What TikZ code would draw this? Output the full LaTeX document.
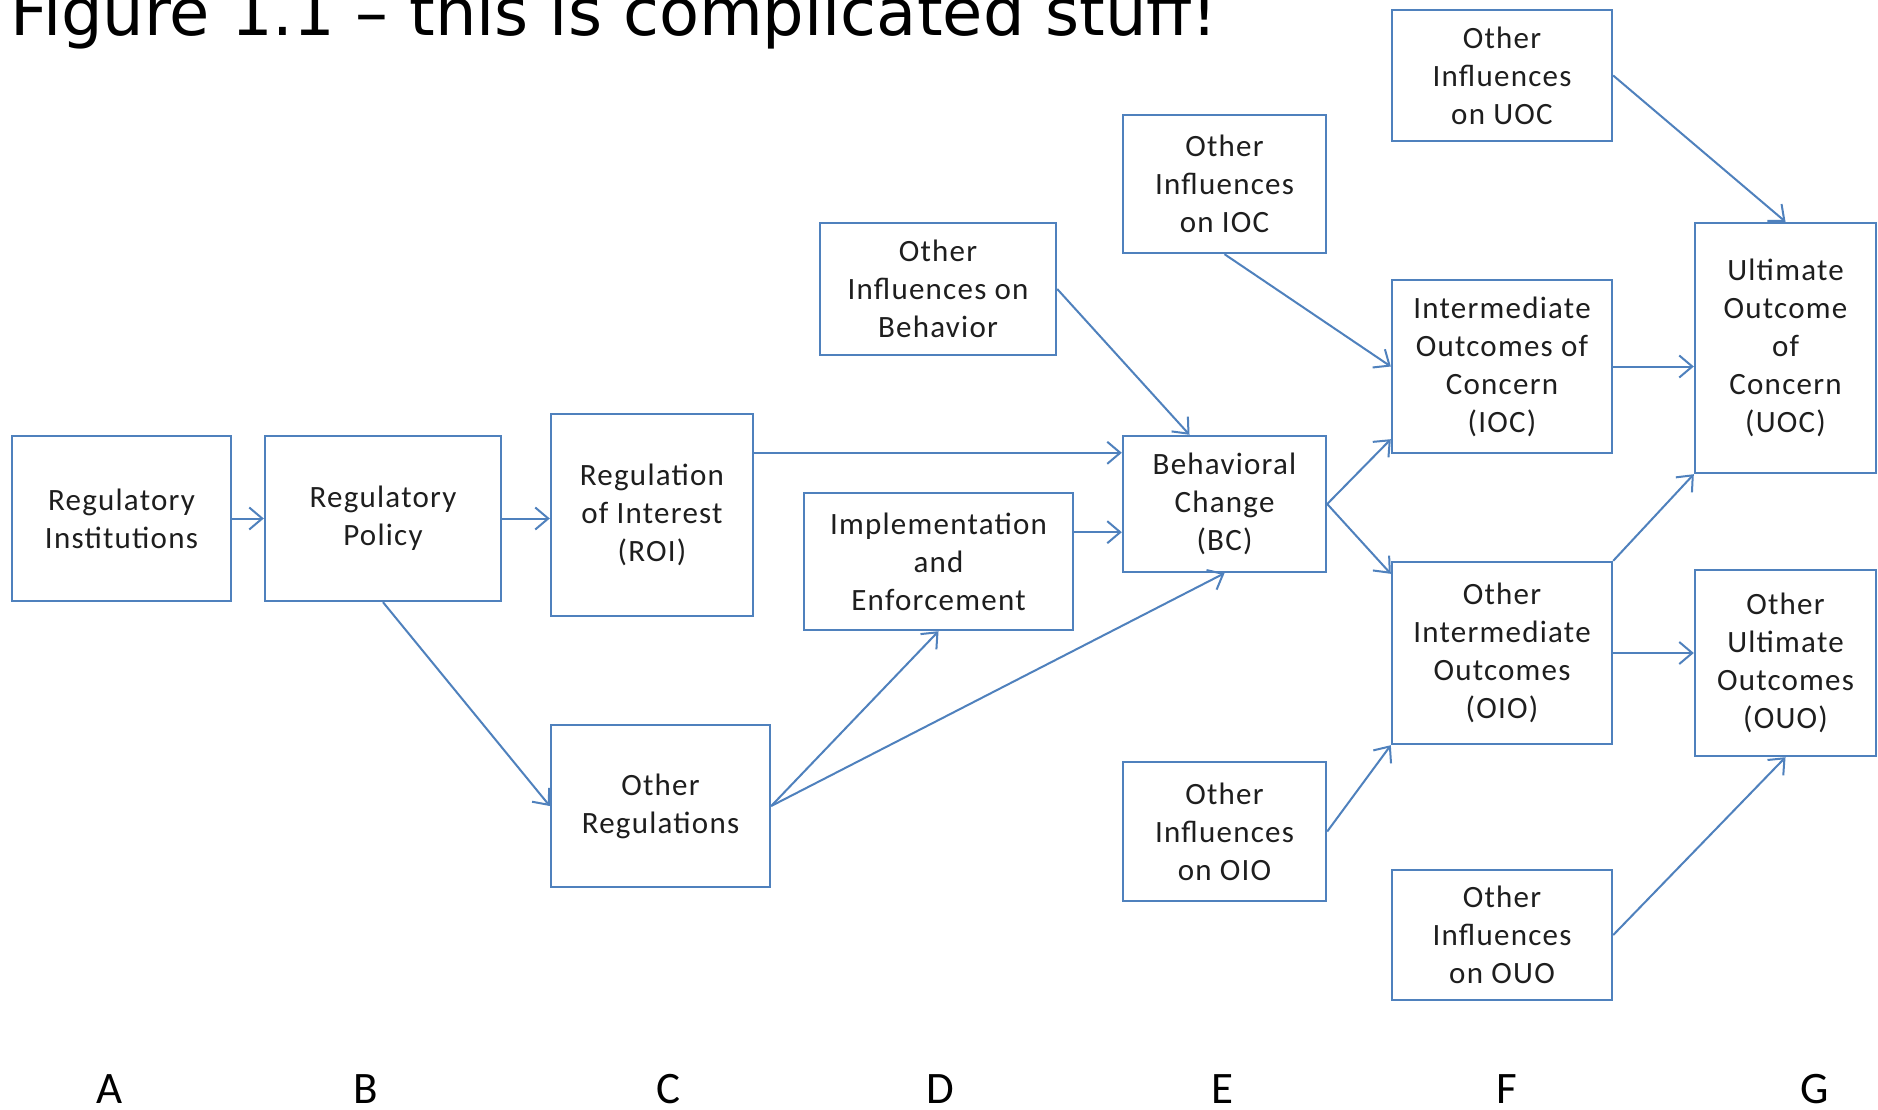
\documentclass[tikz,border=0pt]{standalone}
\usepackage{fontspec}
\usetikzlibrary{arrows.meta,calc}
\newfontfamily\boxfont[LetterSpace=4]{Carlito}
\newfontfamily\letterfont{Carlito}
\newfontfamily\titlefont{DejaVu Sans}
\definecolor{lineblue}{HTML}{4F81BD}
\definecolor{txt}{HTML}{1E1E1E}
\tikzset{
  box/.style={draw=lineblue, line width=2.4pt, fill=white, inner sep=0pt, align=center,
    text=txt, font=\boxfont\fontsize{31pt}{38pt}\selectfont},
  arr/.style={draw=lineblue, line width=2pt, -{Straight Barb[length=13pt,width=22pt]}},
  colletter/.style={anchor=base, inner sep=0pt, text=black, font=\letterfont\fontsize{45pt}{50pt}\selectfont}
}
\begin{document}
\begin{tikzpicture}[x=1pt,y=-1pt]
\useasboundingbox (0,0) rectangle (1878,1110);
\clip (0,0) rectangle (1878,1110);
\fill[white] (0,0) rectangle (1878,1110);

\node[anchor=base west, inner sep=0pt, text=black] (title) at (10,36)
  {\titlefont\fontsize{65.5pt}{70pt}\selectfont Figure 1.1 – this is complicated stuff!};

\node[box, minimum width=219pt, minimum height=165pt] (RI) at (121.5,518.5) {Regulatory\\Institutions};
\node[box, minimum width=236pt, minimum height=165pt] (RP) at (383,518.5) {Regulatory\\Policy};
\node[box, minimum width=202pt, minimum height=202pt] (ROI) at (652,515) {Regulation\\of Interest\\(ROI)};
\node[box, minimum width=219pt, minimum height=162pt] (OR) at (660.5,806) {Other\\Regulations};
\node[box, minimum width=236pt, minimum height=132pt] (OIB) at (938,289) {Other\\Influences on\\Behavior};
\node[box, minimum width=269pt, minimum height=137pt] (IE) at (938.5,561.5) {Implementation\\and\\Enforcement};
\node[box, minimum width=203pt, minimum height=138pt] (OIIOC) at (1224.5,184) {Other\\Influences\\on IOC};
\node[box, minimum width=203pt, minimum height=136pt] (BC) at (1224.5,504) {Behavioral\\Change\\(BC)};
\node[box, minimum width=203pt, minimum height=139pt] (OIOIO) at (1224.5,831.5) {Other\\Influences\\on OIO};
\node[box, minimum width=220pt, minimum height=131pt] (OIUOC) at (1502,75.5) {Other\\Influences\\on UOC};
\node[box, minimum width=220pt, minimum height=173pt] (IOC) at (1502,366.5) {Intermediate\\Outcomes of\\Concern\\(IOC)};
\node[box, minimum width=220pt, minimum height=182pt] (OIO) at (1502,653) {Other\\Intermediate\\Outcomes\\(OIO)};
\node[box, minimum width=220pt, minimum height=130pt] (OIOUO) at (1502,935) {Other\\Influences\\on OUO};
\node[box, minimum width=181pt, minimum height=250pt] (UOC) at (1785.5,348) {Ultimate\\Outcome\\of\\Concern\\(UOC)};
\node[box, minimum width=181pt, minimum height=186pt] (OUO) at (1785.5,663) {Other\\Ultimate\\Outcomes\\(OUO)};

\coordinate (bcA) at ($(BC.north west)+(0,18)$);
\coordinate (bcB) at ($(BC.south west)+(0,-41)$);
\coordinate (bcC) at ($(BC.north)+(-35,0)$);
\coordinate (iocA) at ($(IOC.south west)+(0,-15)$);
\coordinate (oioA) at ($(OIO.north west)+(0,13)$);

\draw[arr] (RI.east) -- (RP.west |- RI.east);
\draw[arr] (RP.east) -- (ROI.west |- RP.east);
\draw[arr] (RP.south) -- (OR.west);
\draw[arr] (ROI.east |- bcA) -- (bcA);
\draw[arr] (IE.east |- bcB) -- (bcB);
\draw[arr] (OR.east) -- (IE.south);
\draw[arr] (OR.east) -- (BC.south);
\draw[arr] (OIB.east) -- (bcC);
\draw[arr] (OIIOC.south) -- (IOC.west);
\draw[arr] (BC.east) -- (iocA);
\draw[arr] (BC.east) -- (oioA);
\draw[arr] (IOC.east) -- (UOC.west |- IOC.east);
\draw[arr] (OIUOC.east) -- (UOC.north);
\draw[arr] (OIO.north east) -- (UOC.south west);
\draw[arr] (OIO.east) -- (OUO.west |- OIO.east);
\draw[arr] (OIOIO.east) -- (OIO.south west);
\draw[arr] (OIOUO.east) -- (OUO.south);

\node[colletter] (lA) at (110,1103) {A};
\node[colletter] (lB) at (366,1103) {B};
\node[colletter] (lC) at (668,1103) {C};
\node[colletter] (lD) at (940,1103) {D};
\node[colletter] (lE) at (1222,1103) {E};
\node[colletter] (lF) at (1507,1103) {F};
\node[colletter] (lG) at (1815,1103) {G};
\end{tikzpicture}
\end{document}
